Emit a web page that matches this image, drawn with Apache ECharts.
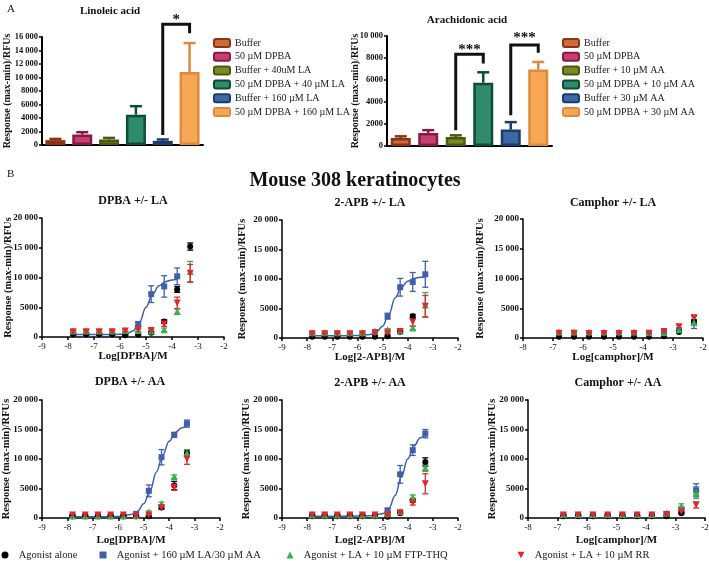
<!DOCTYPE html>
<html><head><meta charset="utf-8">
<script src="https://cdn.jsdelivr.net/npm/echarts@6/dist/echarts.min.js"></script>
<style>html,body{margin:0;padding:0;background:#fff}#c{width:709px;height:568px}</style>
</head><body><div id="c"></div>
<script>
const FONT = '"Liberation Serif","Times New Roman",serif';

// ---- Panel A data ----
const laCategories = ['Buffer','50 µM DPBA','Buffer + 40uM LA','50 µM DPBA + 40 µM LA','Buffer + 160 µM LA','50 µM DPBA + 160 µM LA'];
const laValues = [720, 1550, 800, 4500, 620, 10800];
const laErrors = [180, 350, 250, 1250, 200, 4300];
const aaCategories = ['Buffer','50 µM DPBA','Buffer + 10 µM AA','50 µM DPBA + 10 µM AA','Buffer + 30 µM AA','50 µM DPBA + 30 µM AA'];
const aaValues = [730, 1190, 820, 5750, 1490, 6960];
const aaErrors = [150, 250, 150, 950, 680, 680];
const barFills = ['#cc6c38','#c63f6f','#7b8a22','#2f8b69','#3c68a3','#f7a653'];
const barBorders = ['#8a3413','#861a44','#4a5810','#0e4c36','#1b3c6c','#de8a3e'];

// ---- Panel B data ----
const logDose = [-7.8,-7.3,-6.8,-6.3,-5.8,-5.3,-4.8,-4.3,-3.8,-3.3];
const logCamphor = [-6.8,-6.3,-5.8,-5.3,-4.8,-4.3,-3.8,-3.3,-2.8,-2.3];

const dpbaLaAlone = [400,400,400,400,300,400,700,2600,8000,15200];
const dpbaLaAloneSem = [150,150,150,150,100,150,200,300,500,600];
const dpbaLaFa = [400,400,400,400,500,2200,7200,8500,10200,null];
const dpbaLaFaSem = [100,100,100,100,150,300,1400,1800,1400,null];
const dpbaLaFtp = [1000,1000,1000,1000,1100,1100,1000,1200,4300,11000];
const dpbaLaFtpSem = [200,200,200,200,200,200,200,300,500,1700];
const dpbaLaRr = [900,900,900,900,1000,1200,1100,2200,5700,10700];
const dpbaLaRrSem = [200,200,200,200,200,300,300,400,1000,1500];
const dpbaLaFitX = [-7.8,-7,-6.5,-6,-5.75,-5.5,-5.25,-5,-4.75,-4.5,-4.25,-4,-3.8];
const dpbaLaFitY = [400,400,410,450,550,1000,2500,5000,7200,8600,9300,9600,9700];

const apbLaAlone = [200,200,200,200,200,200,300,1000,3700,null];
const apbLaAloneSem = [100,100,100,100,100,100,100,200,300,null];
const apbLaFa = [400,400,400,400,400,1000,3700,8600,9500,10800];
const apbLaFaSem = [100,100,100,100,100,200,500,1500,1600,2200];
const apbLaFtp = [900,900,900,900,900,1200,1400,1200,1700,5600];
const apbLaFtpSem = [200,200,200,200,200,200,200,200,300,2100];
const apbLaRr = [700,700,700,700,700,800,900,1100,2700,5400];
const apbLaRrSem = [200,200,200,200,200,200,200,300,700,1800];
const apbLaFitX = [-7.8,-6.5,-6,-5.5,-5.25,-5,-4.75,-4.5,-4.25,-4,-3.75,-3.5,-3.3];
const apbLaFitY = [400,400,420,600,1000,2000,4000,6800,8600,9600,10100,10300,10350];

const camLaAlone = [200,200,200,200,200,200,200,300,1000,2800];
const camLaAloneSem = [100,100,100,100,100,100,100,100,150,300];
const camLaFa = [400,400,400,400,400,400,500,700,1300,2600];
const camLaFaSem = [100,100,100,100,100,100,100,200,300,1000];
const camLaFtp = [1000,1000,1000,1000,1000,1000,900,900,1400,2600];
const camLaFtpSem = [200,200,200,200,200,200,200,200,300,500];
const camLaRr = [800,800,750,750,750,750,800,1100,1900,3400];
const camLaRrSem = [200,200,200,200,200,200,200,200,300,400];

const dpbaAaAlone = [300,300,300,300,300,300,300,1800,5500,11000];
const dpbaAaAloneSem = [100,100,100,100,100,100,200,300,700,500];
const dpbaAaFa = [300,300,300,300,300,700,4600,10300,14100,16000];
const dpbaAaFaSem = [100,100,100,100,100,200,1000,1300,400,600];
const dpbaAaFtp = [400,400,400,400,400,400,1000,2400,7000,11000];
const dpbaAaFtpSem = [100,100,100,100,100,100,200,300,300,500];
const dpbaAaRr = [500,500,500,500,500,300,500,1800,5200,10000];
const dpbaAaRrSem = [100,100,100,100,100,100,200,300,500,900];
const dpbaAaFitX = [-7.8,-6.5,-6,-5.5,-5.25,-5,-4.75,-4.5,-4.25,-4,-3.75,-3.5,-3.3];
const dpbaAaFitY = [200,200,250,600,1100,2400,4600,7800,10700,13000,14500,15300,15700];

const apbAaAlone = [300,300,300,300,300,300,200,800,3000,9500];
const apbAaAloneSem = [100,100,100,100,100,100,100,200,300,700];
const apbAaFa = [400,400,400,400,400,400,1300,7400,11500,14300];
const apbAaFaSem = [100,100,100,100,100,100,300,1500,900,700];
const apbAaFtp = [500,500,500,500,500,500,700,1100,3500,8500];
const apbAaFtpSem = [100,100,100,100,100,100,100,200,400,600];
const apbAaRr = [500,500,500,500,500,500,500,900,2600,5800];
const apbAaRrSem = [100,100,100,100,100,100,100,200,400,1700];
const apbAaFitX = [-7.8,-6,-5.5,-5,-4.75,-4.5,-4.25,-4,-3.75,-3.5,-3.3];
const apbAaFitY = [300,320,380,700,1600,3800,7000,10000,12200,13600,14200];

const camAaAlone = [300,300,300,300,300,300,300,300,800,null];
const camAaAloneSem = [100,100,100,100,100,100,100,100,150,null];
const camAaFa = [400,400,400,400,400,400,400,700,1500,4700];
const camAaFaSem = [100,100,100,100,100,100,100,200,300,1100];
const camAaFtp = [600,600,600,600,600,600,600,800,2000,4300];
const camAaFtpSem = [100,100,100,100,100,100,100,200,400,1000];
const camAaRr = [500,500,500,500,500,500,500,600,1100,2200];
const camAaRrSem = [100,100,100,100,100,100,100,200,200,500];

const groupNames = ['Agonist alone','Agonist + 160 µM LA/30 µM AA','Agonist + LA + 10 µM FTP-THQ','Agonist + LA + 10 µM RR'];
const groupColors = ['#000000','#3f5fae','#36b04b','#e3262d'];
const groupSymbols = ['circle','rect','triangle','path://M0,0L10,0L5,9Z'];
const groupSizes = [6,6,7,7];

// ---- helpers ----
function fmtK(v){ return v >= 10000 ? Math.floor(v/1000) + ' ' + String(v%1000).padStart(3,'0') : String(v); }
const axisLineStyle = {color:'#000', width:1.5};
const labelStyle = {fontFamily:FONT, fontWeight:'bold', fontSize:9, color:'#111'};
const nameStyle = {fontFamily:FONT, fontWeight:'bold', fontSize:10.5, color:'#111'};

const grids = [
  {left:42, top:37, width:161, height:108},
  {left:387, top:36, width:165, height:110},
  {left:42, top:218, width:182, height:119},
  {left:282, top:220, width:176, height:118},
  {left:523, top:219, width:180, height:119},
  {left:42, top:400, width:178, height:118},
  {left:282, top:400, width:176, height:118},
  {left:528, top:400, width:177, height:118}
].map(g => Object.assign({outerBoundsMode:'none', containLabel:false}, g));

const xAxes = [], yAxes = [], series = [];

function barPanel(gi, cats, vals, errs, ymax, nameGap, brackets) {
  xAxes.push({gridIndex:gi, type:'category', data:cats, boundaryGap:true,
    axisLine:{show:true, lineStyle:{color:'#000', width:2}}, axisTick:{show:false}, axisLabel:{show:false}, splitLine:{show:false}});
  yAxes.push({gridIndex:gi, type:'value', min:0, max:ymax, interval:2000,
    name:'Response (max-min)/RFUs', nameLocation:'middle', nameGap:nameGap, nameMoveOverlap:false, nameTextStyle:Object.assign({}, nameStyle, {fontSize:10}),
    axisLine:{show:true, onZero:false, lineStyle:{color:'#000', width:2}}, axisTick:{show:true, length:3, lineStyle:{color:'#000', width:1.5}},
    axisLabel:Object.assign({margin:4, formatter:fmtK}, labelStyle, {fontSize:8.5}), splitLine:{show:false}});
  cats.forEach((name, i) => {
    series.push({type:'bar', name, xAxisIndex:gi, yAxisIndex:gi, barWidth:20, barGap:'-100%',
      data: vals.map((v, j) => j === i ? v : null),
      itemStyle:{color:barFills[i], borderColor:barBorders[i], borderWidth:2.5}, z:2});
  });
  series.push({type:'custom', name:'err'+gi, xAxisIndex:gi, yAxisIndex:gi, clip:false, z:3,
    data: vals.map((v, i) => [i, v, errs[i]]),
    renderItem: (p, api) => {
      const i = api.value(0), v = api.value(1), e = api.value(2);
      const b = api.coord([i, v]), t = api.coord([i, v + e]);
      const st = {stroke:barBorders[i], lineWidth:2.5};
      return {type:'group', children:[
        {type:'line', shape:{x1:b[0], y1:b[1], x2:t[0], y2:t[1]}, style:st},
        {type:'line', shape:{x1:t[0]-6, y1:t[1], x2:t[0]+6, y2:t[1]}, style:st}
      ]};
    }});
  series.push({type:'custom', name:'sig'+gi, xAxisIndex:gi, yAxisIndex:gi, clip:false, z:4,
    data: brackets.map(b => b.slice(0,6)),
    renderItem: (p, api) => {
      const a = api.value(0), v1 = api.value(1), vt = api.value(2), bb = api.value(3), v2 = api.value(4), lv = api.value(5);
      const p1 = api.coord([a, v1]), p2 = api.coord([a, vt]), p3 = api.coord([bb, vt]), p4 = api.coord([bb, v2]);
      const ly = api.coord([a, lv])[1];
      return {type:'group', children:[
        {type:'polyline', shape:{points:[p1,p2,p3,p4]}, style:{stroke:'#111', lineWidth:3, fill:null}},
        {type:'text', x:(p2[0]+p3[0])/2, y:ly, style:{text:brackets[p.dataIndex][6], fontFamily:FONT, fontWeight:'bold', fontSize:15, fill:'#111', align:'center', verticalAlign:'middle'}}
      ]};
    }});
}

function pairs(xs, ys, es) {
  const out = [];
  xs.forEach((x, i) => { if (ys[i] != null) out.push(es ? [x, ys[i], es[i]] : [x, ys[i]]); });
  return out;
}

function doseAxes(gi, xmin, xname, yGap, xGap) {
  xAxes.push({gridIndex:gi, type:'value', min:xmin, max:-2, interval:1,
    name:xname, nameLocation:'middle', nameGap:xGap, nameMoveOverlap:false, nameTextStyle:Object.assign({}, nameStyle, {fontSize:11}),
    axisLine:{show:true, onZero:false, lineStyle:axisLineStyle}, axisTick:{show:true, length:3, lineStyle:axisLineStyle},
    axisLabel:Object.assign({margin:5}, labelStyle, {fontWeight:'normal'}), splitLine:{show:false}});
  yAxes.push({gridIndex:gi, type:'value', min:0, max:20000, interval:5000,
    name:'Response (max-min)/RFUs', nameLocation:'middle', nameGap:yGap, nameMoveOverlap:false, nameTextStyle:nameStyle,
    axisLine:{show:true, onZero:false, lineStyle:axisLineStyle}, axisTick:{show:true, length:3, lineStyle:axisLineStyle},
    axisLabel:Object.assign({margin:4, formatter:fmtK}, labelStyle), splitLine:{show:false}});
}

function dosePanel(gi, xs, groups, fitX, fitY) {
  if (fitX) {
    series.push({type:'line', name:'fit'+gi, xAxisIndex:gi, yAxisIndex:gi, data:pairs(fitX, fitY),
      smooth:0.4, smoothMonotone:'x', showSymbol:false, symbol:'none', lineStyle:{color:groupColors[1], width:1.5}, z:2});
  }
  const order = [1, 0, 2, 3];
  order.forEach(g => {
    const [vals, sems] = groups[g];
    const col = groupColors[g];
    series.push({type:'custom', name:'eb'+gi+'_'+g, xAxisIndex:gi, yAxisIndex:gi, z:3 + g*0.1,
      data:pairs(xs, vals, sems),
      renderItem:(p, api) => {
        const x = api.value(0), v = api.value(1), e = api.value(2);
        const lo = api.coord([x, v - e]), hi = api.coord([x, v + e]);
        const st = {stroke:col, lineWidth:1.3};
        return {type:'group', children:[
          {type:'line', shape:{x1:lo[0], y1:lo[1], x2:hi[0], y2:hi[1]}, style:st},
          {type:'line', shape:{x1:lo[0]-3, y1:lo[1], x2:lo[0]+3, y2:lo[1]}, style:st},
          {type:'line', shape:{x1:hi[0]-3, y1:hi[1], x2:hi[0]+3, y2:hi[1]}, style:st}
        ]};
      }});
  });
  order.forEach((g, k) => {
    const [vals] = groups[g];
    series.push({type:'scatter', name:groupNames[g], xAxisIndex:gi, yAxisIndex:gi, data:pairs(xs, vals),
      symbol:groupSymbols[g], symbolSize:groupSizes[g], itemStyle:{color:groupColors[g], opacity:1}, z:5 + k});
  });
}

// Build panels
barPanel(0, laCategories, laValues, laErrors, 16000, 30, [[4, 1480, 17900, 5, 16550, 18500, '*']]);
barPanel(1, aaCategories, aaValues, aaErrors, 10000, 27, [[2, 1430, 8330, 3, 7510, 8730, '***'], [4, 2800, 9180, 5, 8480, 9820, '***']]);

doseAxes(2, -9, 'Log[DPBA]/M', 28, 14);
doseAxes(3, -9, 'Log[2-APB]/M', 34, 14);
doseAxes(4, -8, 'Log[camphor]/M', 37, 14);
doseAxes(5, -9, 'Log[DPBA]/M', 30, 17);
doseAxes(6, -9, 'Log[2-APB]/M', 30, 17);
doseAxes(7, -8, 'Log[camphor]/M', 30, 17);

dosePanel(2, logDose, [[dpbaLaAlone,dpbaLaAloneSem],[dpbaLaFa,dpbaLaFaSem],[dpbaLaFtp,dpbaLaFtpSem],[dpbaLaRr,dpbaLaRrSem]], dpbaLaFitX, dpbaLaFitY);
dosePanel(3, logDose, [[apbLaAlone,apbLaAloneSem],[apbLaFa,apbLaFaSem],[apbLaFtp,apbLaFtpSem],[apbLaRr,apbLaRrSem]], apbLaFitX, apbLaFitY);
dosePanel(4, logCamphor, [[camLaAlone,camLaAloneSem],[camLaFa,camLaFaSem],[camLaFtp,camLaFtpSem],[camLaRr,camLaRrSem]]);
dosePanel(5, logDose, [[dpbaAaAlone,dpbaAaAloneSem],[dpbaAaFa,dpbaAaFaSem],[dpbaAaFtp,dpbaAaFtpSem],[dpbaAaRr,dpbaAaRrSem]], dpbaAaFitX, dpbaAaFitY);
dosePanel(6, logDose, [[apbAaAlone,apbAaAloneSem],[apbAaFa,apbAaFaSem],[apbAaFtp,apbAaFtpSem],[apbAaRr,apbAaRrSem]], apbAaFitX, apbAaFitY);
dosePanel(7, logCamphor, [[camAaAlone,camAaAloneSem],[camAaFa,camAaFaSem],[camAaFtp,camAaFtpSem],[camAaRr,camAaRrSem]]);

const legendText = {fontFamily:FONT, fontSize:10, color:'#222', lineHeight:12};
const barLegend = (left, names) => ({orient:'vertical', left, top:37, padding:0, data:names, icon:'roundRect', itemWidth:16, itemHeight:8, itemGap:1.8,
  textStyle:Object.assign({}, legendText), itemStyle:{borderWidth:2}, selectedMode:false});
const doseLegend = (left, name) => ({orient:'horizontal', left, top:549, padding:0, data:[name], itemWidth:7, itemHeight:7,
  formatter:n => '  ' + n,
  textStyle:Object.assign({}, legendText, {fontSize:10.5}), selectedMode:false});

const texts = [
  ['A', 7, 9, 11, 'normal'],
  ['Linoleic acid', 110, 11, 11, 'bold'],
  ['Arachidonic acid', 467, 20, 11, 'bold'],
  ['B', 7, 174, 11, 'normal'],
  ['Mouse 308 keratinocytes', 355, 181, 20, 'bold'],
  ['DPBA +/- LA', 133, 201, 12, 'bold'],
  ['2-APB +/- LA', 370, 203, 12, 'bold'],
  ['Camphor +/- LA', 613, 203, 12, 'bold'],
  ['DPBA +/- AA', 130, 382, 12, 'bold'],
  ['2-APB +/- AA', 370, 383, 12, 'bold'],
  ['Camphor +/- AA', 618, 383, 12, 'bold']
];

const option = {
  animation:false,
  backgroundColor:'#fff',
  grid:grids,
  xAxis:xAxes,
  yAxis:yAxes,
  legend:[
    barLegend(213, laCategories),
    barLegend(562, aaCategories),
    doseLegend(1.5, groupNames[0]),
    doseLegend(99.5, groupNames[1]),
    doseLegend(286.5, groupNames[2]),
    doseLegend(517.5, groupNames[3])
  ],
  graphic:texts.map(t => ({type:'text', x:t[1], y:t[2], silent:true,
    style:{text:t[0], fontFamily:FONT, fontSize:t[3], fontWeight:t[4], fill:'#111',
      align:t[0].length === 1 ? 'left' : 'center', verticalAlign:'middle'}})),
  series
};

const chart = echarts.init(document.getElementById('c'), null, {renderer:'canvas'});
chart.setOption(option);
</script>
</body></html>
